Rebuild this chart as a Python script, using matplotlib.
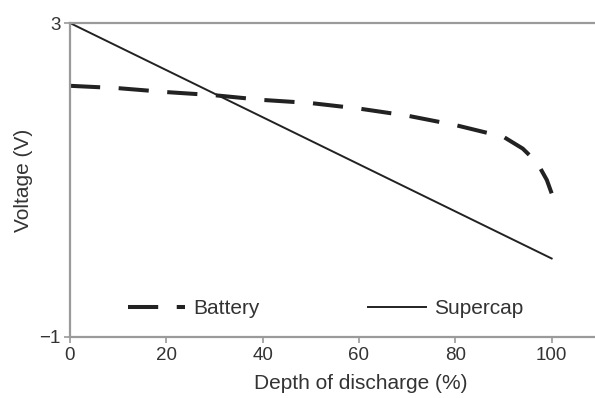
import matplotlib.pyplot as plt

plt.rcParams["font.family"] = ["Liberation Sans", "DejaVu Sans"]

# depth of discharge (%) and cell voltage (V)
battery_dod = [0, 10, 20, 30, 40, 50, 60, 70, 80, 90, 94, 97, 99, 100]
battery_v = [2.2, 2.17, 2.12, 2.08, 2.02, 1.98, 1.91, 1.82, 1.7, 1.55, 1.4, 1.22, 1.0, 0.83]
supercap_dod = [0, 100]
supercap_v = [3.0, 0.0]

xticks = [0, 20, 40, 60, 80, 100]
yticks = [-1, 3]

fig = plt.figure(figsize=(5.95, 3.98), dpi=100)
ax = fig.add_axes([0.1176, 0.1533, 0.8824, 0.7889])

ax.plot(battery_dod, battery_v, color="#222222", lw=2.9, dashes=(7.5, 4.6),
        solid_capstyle="butt", label="Battery")
ax.plot(supercap_dod, supercap_v, color="#222222", lw=1.4, label="Supercap")

ax.set_xlim(0, 109)
ax.set_ylim(-1, 3)
ax.set_xticks(xticks)
ax.set_yticks(yticks)
ax.set_yticklabels(["\u22121", "3"])

for side in ["left", "bottom", "top"]:
    ax.spines[side].set_color("#9a9a9a")
    ax.spines[side].set_linewidth(1.6)
ax.spines["right"].set_visible(False)
ax.tick_params(colors="#9a9a9a", labelcolor="#333333", labelsize=13.5,
               length=4, width=1.2, pad=3)

ax.set_xlabel("Depth of discharge (%)", fontsize=15, color="#333333")
ax.xaxis.set_label_coords(0.554, -0.118)
ax.set_ylabel("Voltage (V)", fontsize=15, color="#333333", labelpad=4)

ax.legend(loc="lower left", bbox_to_anchor=(0.075, 0.0), ncol=2, frameon=False,
          fontsize=15, handlelength=2.75, columnspacing=5.2, handletextpad=0.4,
          labelcolor="#333333")

fig.savefig("out.png", dpi=100)
plt.close(fig)
